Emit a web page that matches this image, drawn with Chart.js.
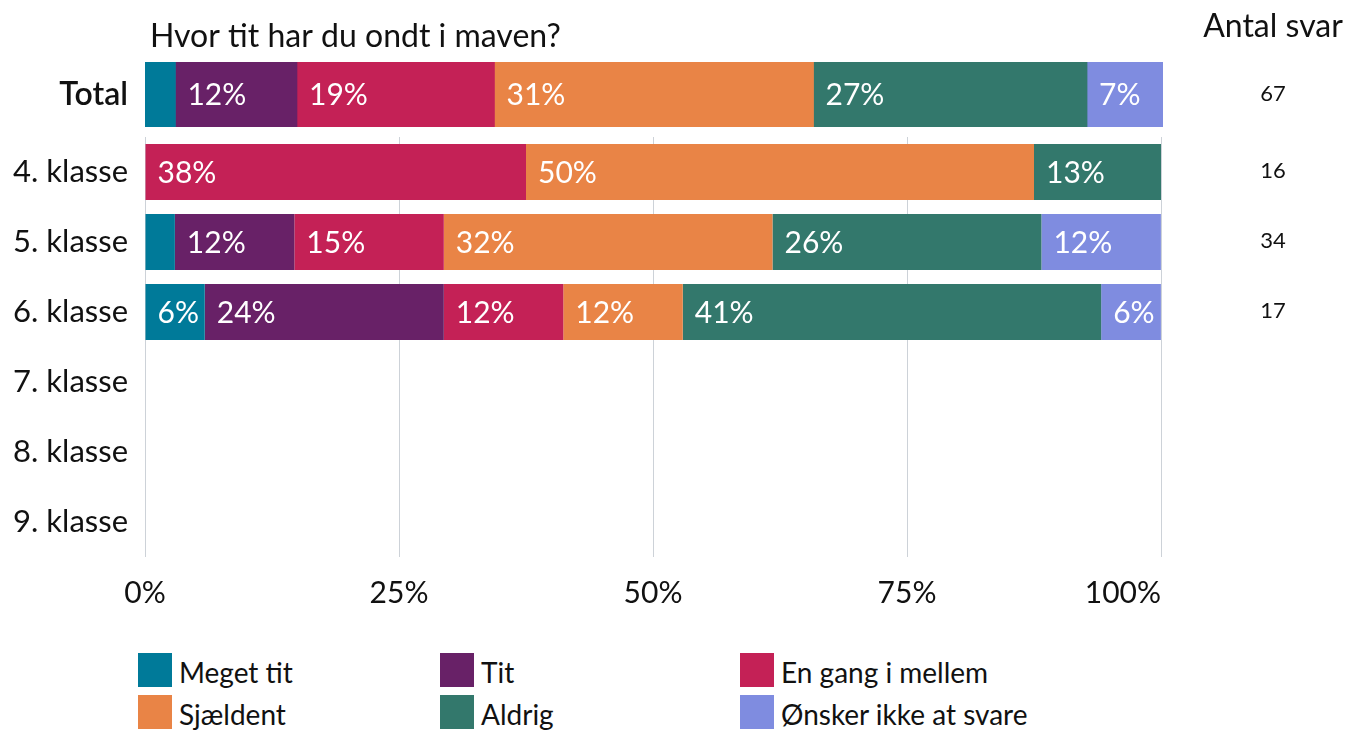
<!DOCTYPE html>
<html>
<head>
<meta charset="utf-8">
<script src="https://cdn.jsdelivr.net/npm/chart.js@4.4.1/dist/chart.umd.min.js"></script>
<style>
  html, body { margin: 0; padding: 0; background: #fff; }
  body { width: 1347px; height: 730px; position: relative; overflow: hidden; font-family: Lato, sans-serif; color: #111; }
  canvas { position: absolute; left: 0; top: 0; }
  #legend { position: absolute; left: 138px; top: 653px; display: grid; grid-template-columns: 302px 300px 300px; row-gap: 8px; }
  .item { display: flex; align-items: center; height: 34px; font-size: 28px; line-height: 34px; }
  .item span:last-child { position: relative; top: 2px; }
  .box { width: 34px; height: 34px; margin-right: 7px; flex: none; }
</style>
</head>
<body>
<canvas id="classChart" width="1347" height="620"></canvas>
<canvas id="totalChart" width="1347" height="180"></canvas>
<div id="legend"></div>
<script>
// Survey: "Hvor tit har du ondt i maven?" — answer shares (%) per group
const chartTitle = 'Hvor tit har du ondt i maven?';
const countHeader = 'Antal svar';

const seriesNames = ['Meget tit', 'Tit', 'En gang i mellem', 'Sjældent', 'Aldrig', 'Ønsker ikke at svare'];
const seriesColors = ['#007a99', '#682167', '#c42156', '#e98446', '#33786c', '#7f8ce0'];

const totalLabel = ['Total'];
const totalCount = [67];
const totalShares = [2.99, 11.94, 19.40, 31.34, 26.87, 7.46];

const classLabels = ['4. klasse', '5. klasse', '6. klasse', '7. klasse', '8. klasse', '9. klasse'];
const classCounts = [16, 34, 17, null, null, null];
const meget  = [0,     2.94,  5.88,  null, null, null];
const tit    = [0,     11.76, 23.53, null, null, null];
const engang = [37.5,  14.71, 11.76, null, null, null];
const sjaeld = [50,    32.35, 11.76, null, null, null];
const aldrig = [12.5,  26.47, 41.18, null, null, null];
const oensk  = [0,     11.76, 5.88,  null, null, null];
const classSeries = [meget, tit, engang, sjaeld, aldrig, oensk];

const xTicks = [0, 25, 50, 75, 100];

const FONT = 'Lato';
const INK = '#111';

// White percentage text inside each segment wide enough to hold it
const segmentLabels = {
  id: 'segmentLabels',
  afterDatasetsDraw(chart) {
    const ctx = chart.ctx;
    ctx.save();
    ctx.font = `30px ${FONT}`;
    ctx.fillStyle = '#fff';
    ctx.textAlign = 'left';
    ctx.textBaseline = 'middle';
    chart.data.datasets.forEach((ds, i) => {
      const meta = chart.getDatasetMeta(i);
      meta.data.forEach((bar, j) => {
        const v = ds.data[j];
        if (v == null || v < 5) return;
        const left = Math.min(bar.base, bar.x);
        ctx.fillText(Math.round(v) + '%', left + 12, bar.y + 1);
      });
    });
    ctx.restore();
  }
};

// Response counts in the right-hand column (plus heading texts on the top chart)
const countColumn = {
  id: 'countColumn',
  afterDraw(chart, args, opts) {
    const ctx = chart.ctx;
    const y = chart.scales.y;
    ctx.save();
    ctx.font = `22px ${FONT}`;
    ctx.fillStyle = INK;
    ctx.textAlign = 'center';
    ctx.textBaseline = 'middle';
    opts.counts.forEach((n, i) => {
      if (n == null) return;
      ctx.fillText(String(n), 1273, y.getPixelForValue(i) - 1);
    });
    if (opts.header) {
      ctx.font = `32px ${FONT}`;
      ctx.textBaseline = 'alphabetic';
      ctx.fillText(countHeader, 1273, 37);
      ctx.textAlign = 'left';
      ctx.fillText(chartTitle, 150, 47);
    }
    ctx.restore();
  }
};

// Percent labels under the x axis; the last one is kept inside the plot edge
const xTickLabels = {
  id: 'xTickLabels',
  afterDraw(chart) {
    const ctx = chart.ctx;
    const xs = chart.scales.x;
    const area = chart.chartArea;
    ctx.save();
    ctx.font = `30px ${FONT}`;
    ctx.fillStyle = INK;
    ctx.textBaseline = 'middle';
    ctx.textAlign = 'left';
    xTicks.forEach((v) => {
      const text = v + '%';
      const w = ctx.measureText(text).width;
      let left = xs.getPixelForValue(v) - w / 2;
      if (left + w > area.right) left = area.right - w;
      ctx.fillText(text, left, area.bottom + 36);
    });
    ctx.restore();
  }
};

const fixedAxisWidth = (s) => { s.width = 145; };

new Chart(document.getElementById('totalChart'), {
  type: 'bar',
  data: {
    labels: totalLabel,
    datasets: seriesNames.map((name, i) => ({
      label: name,
      data: [totalShares[i]],
      backgroundColor: seriesColors[i],
      borderWidth: 0,
      barPercentage: 1,
      categoryPercentage: 1
    }))
  },
  options: {
    indexAxis: 'y',
    responsive: false,
    animation: false,
    devicePixelRatio: 1,
    layout: { padding: { left: 0, right: 184, top: 62, bottom: 53 } },
    scales: {
      x: { stacked: true, min: 0, max: 100, display: false },
      y: {
        stacked: true,
        grid: { display: false, drawTicks: false },
        border: { display: false },
        ticks: { font: { family: FONT, size: 32, weight: 600 }, color: INK, padding: 17 },
        afterFit: fixedAxisWidth
      }
    },
    plugins: {
      legend: { display: false },
      tooltip: { enabled: false },
      countColumn: { counts: totalCount, header: true }
    }
  },
  plugins: [segmentLabels, countColumn]
});

new Chart(document.getElementById('classChart'), {
  type: 'bar',
  data: {
    labels: classLabels,
    datasets: seriesNames.map((name, i) => ({
      label: name,
      data: classSeries[i],
      backgroundColor: seriesColors[i],
      borderWidth: 0,
      barPercentage: 0.8,
      categoryPercentage: 1
    }))
  },
  options: {
    indexAxis: 'y',
    responsive: false,
    animation: false,
    devicePixelRatio: 1,
    layout: { padding: { left: 0, right: 186, top: 137, bottom: 0 } },
    scales: {
      x: {
        stacked: true,
        min: 0,
        max: 100,
        afterBuildTicks: (s) => { s.ticks = xTicks.map(v => ({ value: v })); },
        grid: { color: '#cdd2d8', lineWidth: 1, drawTicks: false },
        border: { display: false },
        ticks: { display: false },
        afterFit: (s) => { s.height = 63; }
      },
      y: {
        stacked: true,
        grid: { display: false, drawTicks: false },
        border: { display: false },
        ticks: { font: { family: FONT, size: 31 }, color: INK, padding: 17 },
        afterFit: fixedAxisWidth
      }
    },
    plugins: {
      legend: { display: false },
      tooltip: { enabled: false },
      countColumn: { counts: classCounts, header: false }
    }
  },
  plugins: [segmentLabels, countColumn, xTickLabels]
});

// Legend: three columns, two rows
const legend = document.getElementById('legend');
seriesNames.forEach((name, i) => {
  const item = document.createElement('div');
  item.className = 'item';
  const box = document.createElement('span');
  box.className = 'box';
  box.style.background = seriesColors[i];
  const txt = document.createElement('span');
  txt.textContent = name;
  item.appendChild(box);
  item.appendChild(txt);
  legend.appendChild(item);
});
</script>
</body>
</html>
